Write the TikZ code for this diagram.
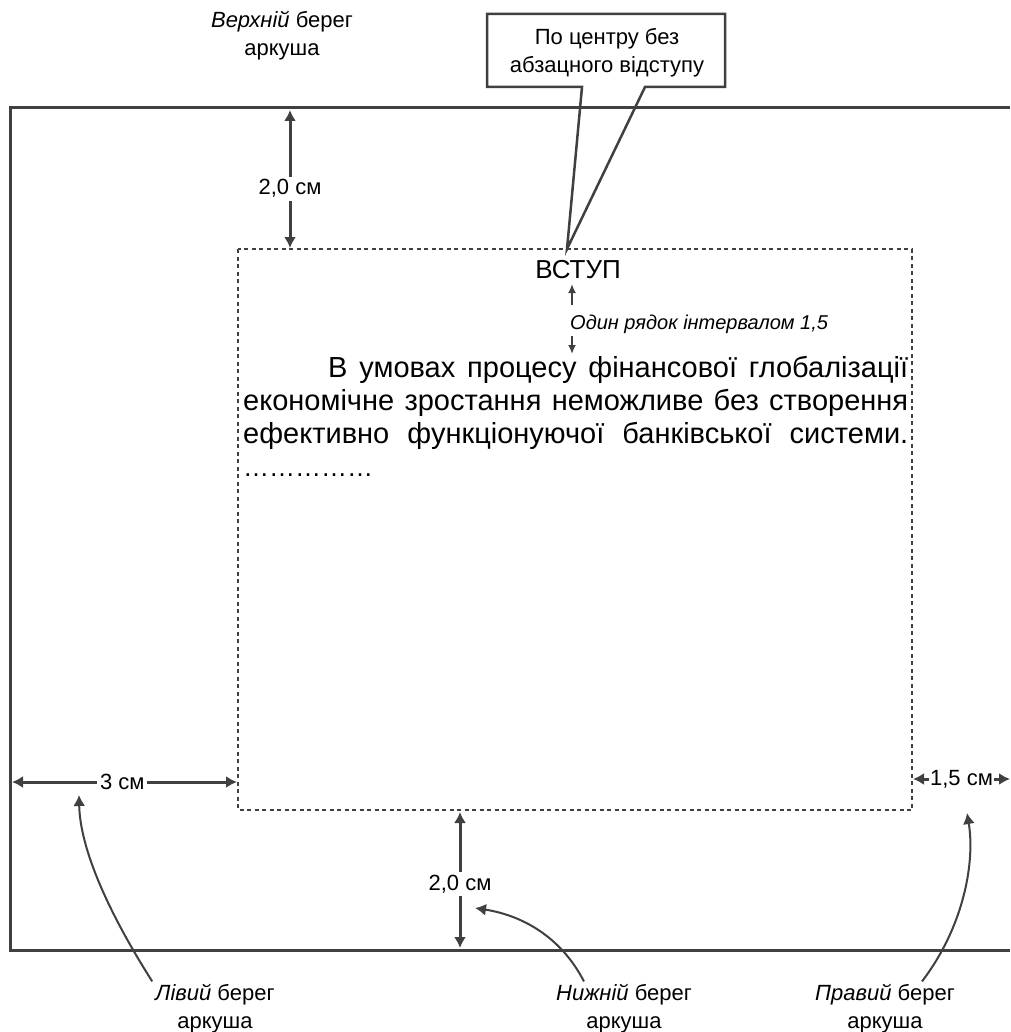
\documentclass[tikz,border=0pt]{standalone}
\usepackage{fontspec}
\setmainfont{Liberation Sans}
\usepackage{tikz}
\usetikzlibrary{arrows.meta}
\usetikzlibrary{positioning}
\tikzset{page/.style     = {line width=3pt, mgray},
         textarea/.style = {line width=2pt, mgray, dash pattern=on 4pt off 3.5pt},
         dim/.style      = {line width=3pt, mgray, <->},
         callout/.style  = {line width=2.5pt, mgray, line join=miter},
         linegap/.style  = {line width=2pt, mgray,
                            -{Latex[length=9pt, width=8pt]}},
         pointer/.style  = {line width=2pt, mgray, ->},
         lbl/.style      = {font=\fontsize{22}{28}\selectfont, text=black, align=center, inner sep=3pt},
         body/.style     = {font=\fontsize{29}{33}\selectfont, inner sep=0pt}}
\definecolor{mgray}{rgb}{0.25, 0.25, 0.25}

\begin{document}
\begin{tikzpicture}[x=1pt, y=-1pt, >={Latex[length=11pt, width=12pt]}]
    \useasboundingbox (0, 0) rectangle (1010, 1032);

    \coordinate (pg-nw) at (10, 108);
    \coordinate (pg-sw) at (10, 950);
    \coordinate (ta-nw) at (238, 249);
    \coordinate (ta-se) at (912, 810);

    \draw [page] (1010, 108) -- (pg-nw) -- (pg-sw) -- (1010, 950);
    \draw [textarea] (ta-nw) rectangle (ta-se);

    \coordinate (top-a) at (290, 110);  \coordinate (top-b) at (290, 248);
    \coordinate (bot-a) at (460, 812);  \coordinate (bot-b) at (460, 948);
    \coordinate (lft-a) at (12, 782);   \coordinate (lft-b) at (237, 782);
    \coordinate (rgt-a) at (913, 779);  \coordinate (rgt-b) at (1010, 779);

    \draw [dim] (top-a) -- node [lbl, fill=white, pos=0.57] (top-dim) {2,0 см} (top-b);
    \draw [dim] (bot-a) -- node [lbl, fill=white, pos=0.53] (bot-dim) {2,0 см} (bot-b);
    \draw [dim] (lft-a) -- node [lbl, fill=white, pos=0.49] (lft-dim) {3 см} (lft-b);
    \draw [dim] (rgt-a) -- node [lbl, fill=white, inner sep=1pt] (rgt-dim) {1,5 см} (rgt-b);

    \node [lbl] (note) at (607, 53) {По центру без\\абзацного відступу};
    \draw [callout] (487, 14) -- (725, 14) -- (725, 87) -- (645, 87) -- (567, 249)
                    -- (582, 87) -- (487, 87) -- cycle;

    \node [font=\fontsize{26}{30}\selectfont, anchor=base, inner sep=0pt] (title) at (578, 278) {ВСТУП};
    \node [font=\fontsize{20}{24}\itshape, anchor=base west, inner sep=0pt] (gap) at (570, 329)
        {Один рядок інтервалом 1,5};
    \coordinate (gap-up0) at (572, 305);  \coordinate (gap-up) at (572, 284);
    \coordinate (gap-dn0) at (572, 336);  \coordinate (gap-dn) at (572, 354);
    \draw [linegap] (gap-up0) -- (gap-up);
    \draw [linegap] (gap-dn0) -- (gap-dn);

    \node [body, anchor=base west] (line1) at (328, 377)
        {\makebox[580pt][s]{В умовах процесу фінансової глобалізації}};
    \node [body, anchor=base west] (line2) at (243, 410)
        {\makebox[665pt][s]{економічне зростання неможливе без створення}};
    \node [body, anchor=base west] (line3) at (243, 443)
        {\makebox[665pt][s]{ефективно функціонуючої банківської системи.}};
    \node [body, font=\fontsize{26}{33}\selectfont, anchor=base west] (line4) at (243, 476) {……………};

    \node [lbl] (top-lbl) at (282, 36) {\textit{Верхній} берег\\аркуша};
    \node [lbl] (lft-lbl) at (215, 1009) {\textit{Лівий} берег\\аркуша};
    \node [lbl] (bot-lbl) at (624, 1009) {\textit{Нижній} берег\\аркуша};
    \node [lbl] (rgt-lbl) at (885, 1009) {\textit{Правий} берег\\аркуша};

    \coordinate (lft-tip) at (79, 795);
    \coordinate (bot-tip) at (475, 908);
    \coordinate (rgt-tip) at (967, 813);
    \draw [pointer] (lft-lbl.north west) .. controls (110, 915) and (80, 850) .. (lft-tip);
    \draw [pointer] ([xshift=31pt]bot-lbl.north west) .. controls (560, 935) and (520, 915) .. (bot-tip);
    \draw [pointer] ([xshift=37pt]rgt-lbl.north) .. controls (965, 925) and (975, 860) .. (rgt-tip);
\end{tikzpicture}
\end{document}
